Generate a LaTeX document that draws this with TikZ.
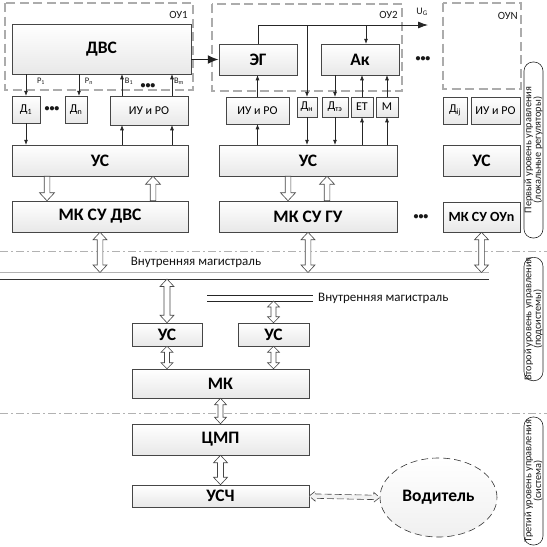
\documentclass[tikz,border=0pt]{standalone}
\usepackage{fontspec}
\setmainfont{Carlito}
\usetikzlibrary{calc,arrows.meta,shapes.geometric}

\newcommand\hsingle[5]{%
 \coordinate (hA) at #1; \coordinate (hB) at #2;
 \coordinate (hC) at ($(hB)!#5pt!(hA)$);
 \draw[harr] ($(hA)!#3pt!90:(hB)$) -- ($(hC)!#3pt!-90:(hA)$) -- ($(hC)!#4pt!-90:(hA)$) -- (hB)
   -- ($(hC)!#4pt!90:(hA)$) -- ($(hC)!#3pt!90:(hA)$) -- ($(hA)!#3pt!-90:(hB)$) -- cycle;}
\newcommand\hdouble[6]{%
 \coordinate (hA) at #1; \coordinate (hB) at #2;
 \coordinate (hC) at ($(hB)!#5pt!(hA)$);
 \coordinate (hD) at ($(hA)!#5pt!(hB)$);
 \draw[harr,#6] (hA) -- ($(hD)!#4pt!90:(hB)$) -- ($(hD)!#3pt!90:(hB)$) -- ($(hC)!#3pt!-90:(hA)$)
   -- ($(hC)!#4pt!-90:(hA)$) -- (hB) -- ($(hC)!#4pt!90:(hA)$) -- ($(hC)!#3pt!90:(hA)$)
   -- ($(hD)!#3pt!-90:(hB)$) -- ($(hD)!#4pt!-90:(hB)$) -- cycle;}

\begin{document}
\begin{tikzpicture}[x=1pt,y=-1pt,
 box/.style={draw=gray!55!black, line width=0.5pt, top color=white, bottom color=gray!18, inner sep=0pt},
 big/.style={font=\fontsize{17.5}{19}\selectfont\bfseries},
 mid/.style={font=\fontsize{14}{16}\selectfont\bfseries},
 sm/.style={font=\fontsize{12}{14}\selectfont},
 lbl/.style={font=\fontsize{8.5}{9}\selectfont, text=gray!20!black, inner sep=0pt},
 ou/.style={font=\fontsize{11}{12}\selectfont, text=gray!20!black, inner sep=0pt},
 dots/.style={font=\fontsize{10}{10}\selectfont\bfseries, inner sep=0pt, text=gray!20!black},
 grp/.style={draw=gray!65, line width=1.3pt, dash pattern=on 9pt off 4.5pt},
 conn/.style={draw=gray!30!black, line width=0.6pt, -{Latex[length=5pt,width=4pt]}},
 thk/.style={draw=gray!25!black, line width=1.8pt, -{Latex[length=11pt,width=9pt]}},
 ugline/.style={draw=gray!30!black, line width=0.8pt, -{Latex[length=10pt,width=7pt]}},
 harr/.style={draw=gray!55!black, fill=white, line width=0.6pt, line join=miter},
 dashdot/.style={draw=gray!60, line width=1pt, dash pattern=on 8pt off 3pt on 2pt off 3pt},
 stad/.style={draw=gray!30!black, line width=0.6pt, rounded corners=9pt, align=center, inner sep=0pt,
   font=\fontsize{10.3}{9.6}\selectfont, text=gray!20!black},
 bustext/.style={font=\fontsize{13}{14}\selectfont, text=gray!15!black, inner sep=0pt}]
\useasboundingbox (0,0) rectangle (547,547);

% group boxes
\draw[grp] (5,3) rectangle (193,90);
\draw[grp] (212,4) rectangle (402,91);
\draw[grp] (443,3) rectangle (521,89);
\node[ou, anchor=east] (lou1) at (188,15) {ОУ1};
\node[ou, anchor=east] (lou2) at (398,15) {ОУ2};
\node[ou, anchor=east] (loun) at (518,16) {ОУN};

% level 1 column 1
\node[box, big, minimum width=179pt, minimum height=50pt] (dvs) at (101.5,49) {ДВС};
\node[box, sm, minimum width=28pt, minimum height=27pt] (d1) at (26,109.5) {Д\textsubscript{1}};
\node[box, sm, minimum width=22pt, minimum height=27pt] (dn) at (76,109.5) {Д\textsubscript{n}};
\node[box, sm, minimum width=78pt, minimum height=29pt] (iu1) at (149,110.5) {ИУ и РО};
\node[box, big, minimum width=176pt, minimum height=31pt] (us1) at (100,160.5) {УС};
\node[box, big, minimum width=176pt, minimum height=31pt] (mk1) at (100,216.5) {МК СУ ДВС};

% column 2
\node[box, big, minimum width=78pt, minimum height=31pt] (eg) at (258,59.5) {ЭГ};
\node[box, big, minimum width=78pt, minimum height=31pt] (ak) at (360,59.5) {Ак};
\node[box, sm, minimum width=63pt, minimum height=27pt] (iu2) at (257.5,110.5) {ИУ и РО};
\node[box, sm, minimum width=20pt, minimum height=20pt] (dh) at (307,107) {Д\textsubscript{н}};
\node[box, sm, minimum width=26pt, minimum height=20pt] (dte) at (335,107) {Д\textsubscript{тэ}};
\node[box, sm, minimum width=22pt, minimum height=20pt] (et) at (362,107) {ЕТ};
\node[box, sm, minimum width=22pt, minimum height=20pt] (mm) at (387,107) {М};
\node[box, big, minimum width=178pt, minimum height=31pt] (us2) at (308,160.5) {УС};
\node[box, big, minimum width=178pt, minimum height=31pt] (mk2) at (308,216.5) {МК СУ ГУ};

% column N
\node[box, sm, minimum width=24pt, minimum height=27pt] (dij) at (455,110.5) {Д\textsubscript{ij}};
\node[box, sm, minimum width=49pt, minimum height=27pt] (iun) at (495.5,110.5) {ИУ и РО};
\node[box, big, minimum width=77pt, minimum height=31pt] (usn) at (481.5,160.5) {УС};
\node[box, mid, minimum width=77pt, minimum height=30pt] (mkn) at (481.5,217) {МК СУ ОУn};

% dots
\node[dots] (dt1) at (52,109.5) {•••};
\node[dots] (dt2) at (148,86) {•••};
\node[dots] (dt3) at (423,59) {•••};
\node[dots] (dt4) at (421,217) {•••};

% labels P, B
\node[lbl] (lp1) at (41,81) {P\textsubscript{1}};
\node[lbl] (lpn) at (89,81) {P\textsubscript{n}};
\node[lbl] (lb1) at (129,81) {B\textsubscript{1}};
\node[lbl] (lbm) at (179,81) {B\textsubscript{m}};

% connectors column 1
\draw[conn] (dvs.south -| d1.north) -- (d1.north);
\draw[conn] (d1.south) -- (us1.north -| d1.south);
\draw[conn] ($(dvs.south)+(-22.5,0)$) -- (dn.north -| 79,0);
\coordinate (b1) at ($(iu1.south)+(-27,0)$);
\coordinate (bm) at ($(iu1.south)+(23,0)$);
\draw[conn] (b1 |- iu1.north) -- (b1 |- dvs.south);
\draw[conn] (bm |- iu1.north) -- (bm |- dvs.south);
\draw[conn] (b1 |- us1.north) -- (b1);
\draw[conn] (bm |- us1.north) -- (bm);

% connectors column 2
\draw[thk] (eg.west -| dvs.east) -- (eg.west);
\coordinate (ug) at (428,25);
\draw[ugline] (eg.north) -- (eg.north |- ug) -- (ug);
\node[lbl, font=\fontsize{10}{11}\selectfont] (lug) at (422,12) {U\textsubscript{G}};
\draw[conn] (dh.north |- ug) -- (dh.north);
\coordinate (akin) at ($(ak.north)+(6,0)$);
\draw[conn] (akin |- ug) -- (akin);
\draw[conn] (ak.south -| dte.north) -- (dte.north);
\draw[conn] (et.north) -- (et.north |- ak.south);
\draw[conn] (mm.north) -- (mm.north |- ak.south);
\draw[conn] (iu2.north) -- (iu2.north |- eg.south);
\draw[conn] (us2.north -| iu2.south) -- (iu2.south);
\draw[conn] (dh.south) -- (dh.south |- us2.north);
\draw[conn] (dte.south) -- (dte.south |- us2.north);
\draw[conn] (et.south |- us2.north) -- (et.south);
\draw[conn] (mm.south |- us2.north) -- (mm.south);

% hollow arrows between УС and МК
\hsingle{($(us1.south)+(-53,0)$)}{($(mk1.north)+(-53,0)$)}{2.8}{7.5}{8}
\hsingle{($(mk1.north)+(53,0)$)}{($(us1.south)+(53,0)$)}{2.8}{7.5}{8}
\hsingle{($(us2.south)+(-20,0)$)}{($(mk2.north)+(-20,0)$)}{2.8}{7.5}{8}
\hsingle{($(mk2.north)+(19,0)$)}{($(us2.south)+(19,0)$)}{2.8}{7.5}{8}

% separators
\coordinate (sepA) at (0,251);
\coordinate (sepB) at (0,413);
\draw[dashdot] (sepA) -- (547,251);
\draw[dashdot] (sepB) -- (547,413);

% main bus
\coordinate (busT) at (0,272.5);
\coordinate (busB) at (0,279);
\draw[draw=gray!60, line width=1.6pt] (busT) -- (489,272.5);
\draw[draw=gray!40!black, line width=1pt] (busB) -- (489,279);
\node[bustext] (bt1) at (196,262) {Внутренняя магистраль};

\hdouble{(mk1.south)}{(mk1.south |- busT)}{2.8}{7}{7.5}{}
\hdouble{(mk2.south)}{(mk2.south |- busT)}{2.8}{7}{7.5}{}
\hdouble{(mkn.south)}{(mkn.south |- busT)}{2.8}{7}{7.5}{}

% level 2
\node[box, big, minimum width=70pt, minimum height=23pt] (usa) at (167,334.5) {УС};
\node[box, big, minimum width=71pt, minimum height=23pt] (usb) at (273.5,334.5) {УС};
\node[box, big, minimum width=177pt, minimum height=29pt] (mk) at (220.5,383.5) {МК};
\coordinate (bus2T) at (207,295);
\coordinate (bus2B) at (207,301);
\draw[draw=gray!30!black, line width=0.9pt] (bus2T) -- (313,295);
\draw[draw=gray!30!black, line width=0.9pt] (bus2B) -- (313,301);
\node[bustext, anchor=west] (bt2) at (318,298) {Внутренняя магистраль};

\hdouble{(usa.north |- busB)}{(usa.north)}{3}{7}{7.5}{}
\hdouble{(usb.north |- bus2B)}{(usb.north)}{2.5}{6}{6}{}
\hdouble{(usa.south)}{(usa.south |- mk.north)}{2.5}{6}{6}{}
\hdouble{(usb.south)}{(usb.south |- mk.north)}{2.5}{6}{6}{}

% level 3
\node[box, big, minimum width=177pt, minimum height=31pt] (cmp) at (220.5,439.5) {ЦМП};
\node[box, big, minimum width=177pt, minimum height=22pt] (usch) at (220.5,496) {УСЧ};
\node[draw=gray!40!black, dash pattern=on 7pt off 4pt, line width=0.6pt, ellipse, top color=white, bottom color=gray!12,
  minimum width=117pt, minimum height=79pt, inner sep=0pt, big] (drv) at (438.5,497.5) {Водитель};

\hdouble{(mk.south)}{(mk.south |- cmp.north)}{2.5}{6}{6.5}{}
\hdouble{(cmp.south)}{(cmp.south |- usch.north)}{3}{7}{7.5}{}
\hdouble{(usch.east)}{(drv.west)}{2.2}{5}{6}{dash pattern=on 7pt off 3pt, fill=gray!10}

% level labels
\node[stad, minimum width=176pt, minimum height=19pt, rotate=90] (s1) at (533.5,150)
  {Первый уровень управления\\(локальные регуляторы)};
\node[stad, minimum width=118pt, minimum height=19pt, rotate=90] (s2) at (533.5,319)
  {Второй уровень управления\\(подсистемы)};
\node[stad, minimum width=128pt, minimum height=19pt, rotate=90] (s3) at (533.5,481)
  {Третий уровень управления\\(система)};
\end{tikzpicture}
\end{document}
